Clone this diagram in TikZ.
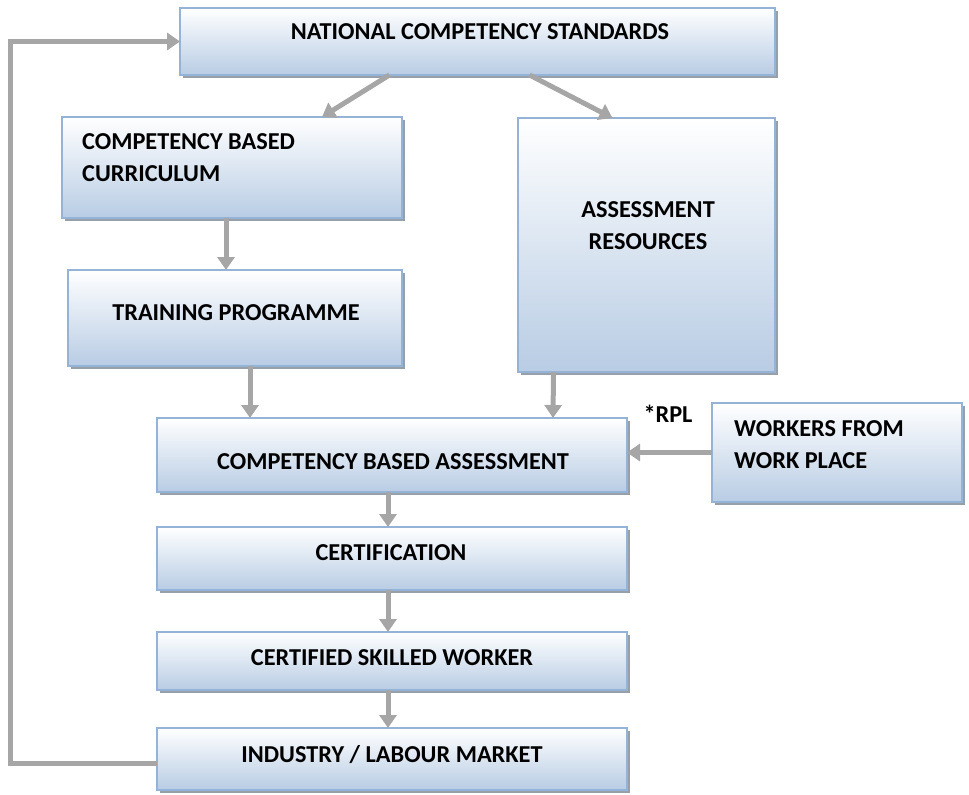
\documentclass[tikz,border=0pt]{standalone}
\usepackage{fontspec}
\setmainfont{Carlito}
\usetikzlibrary{shadows,arrows.meta,calc}
\definecolor{boxtop}{RGB}{255,255,255}
\definecolor{boxbot}{RGB}{184,204,228}
\definecolor{boxline}{RGB}{149,179,215}
\definecolor{arrgray}{RGB}{166,166,166}
\definecolor{shadowgray}{RGB}{140,150,160}
\tikzset{
  blockbox/.style={rectangle, draw=boxline, line width=1.6pt, inner sep=0pt, outer sep=0pt,
    top color=boxtop, bottom color=boxbot,
    drop shadow={shadow xshift=3pt, shadow yshift=-3pt, fill=shadowgray, opacity=0.9}},
  lbl/.style={font=\fontsize{24.3}{32}\selectfont\bfseries, inner sep=0pt, align=left},
  arr/.style={draw=arrgray, line width=5pt, -{Triangle[width=17pt,length=13pt]}}
}
\begin{document}
\begin{tikzpicture}[x=1pt,y=-1pt]
\useasboundingbox (0,0) rectangle (969,795);
% boxes
\node[blockbox, minimum width=595pt, minimum height=67pt] (nat) at (477.5,41.5) {};
\node[blockbox, minimum width=340pt, minimum height=101pt] (cur) at (232,167.5) {};
\node[blockbox, minimum width=257pt, minimum height=254pt] (ass) at (646.5,245) {};
\node[blockbox, minimum width=334pt, minimum height=96pt] (trn) at (235,318) {};
\node[blockbox, minimum width=470pt, minimum height=74pt] (cba) at (392,455) {};
\node[blockbox, minimum width=250pt, minimum height=99pt] (wrk) at (837,452.5) {};
\node[blockbox, minimum width=470pt, minimum height=63pt] (cert) at (392,558.5) {};
\node[blockbox, minimum width=470pt, minimum height=58pt] (csw) at (392,661) {};
\node[blockbox, minimum width=470pt, minimum height=62pt] (ind) at (392,759) {};
% texts
\node[lbl] (tnat) at (480,32) {NATIONAL COMPETENCY STANDARDS};
\node[lbl, anchor=north west] (tcur) at (82,133.5) {COMPETENCY BASED\\CURRICULUM};
\node[lbl, align=center, anchor=north] (tass) at (648,201.5) {ASSESSMENT\\RESOURCES};
\node[lbl] (ttrn) at (236,313) {TRAINING PROGRAMME};
\node[lbl] (tcba) at (393,462) {COMPETENCY BASED ASSESSMENT};
\node[lbl, anchor=north west] (twrk) at (734,420.5) {WORKERS FROM\\WORK PLACE};
\node[lbl] (tcert) at (391,553) {CERTIFICATION};
\node[lbl] (tcsw) at (392,658) {CERTIFIED SKILLED WORKER};
\node[lbl] (tind) at (392,755) {INDUSTRY / LABOUR MARKET};
\node[lbl] (rpl) at (668,414) {*RPL};
% arrows
\draw[arr] ([xshift=-88pt]nat.south) -- ([xshift=90pt]cur.north);
\draw[arr] ([xshift=52pt]nat.south) -- ([xshift=-34pt]ass.north);
\draw[arr] ([xshift=-6pt]cur.south) -- ([xshift=-9pt]trn.north);
\draw[arr] ([xshift=15pt]trn.south) -- (cba.north -| 250,0);
\draw[arr] ([xshift=-93pt]ass.south) -- (cba.north -| 553,0);
\draw[arr] (wrk.west) -- (cba.east |- wrk.west);
\draw[arr] ([xshift=-4pt]cba.south) -- ([xshift=-4pt]cert.north);
\draw[arr] ([xshift=-4pt]cert.south) -- ([xshift=-4pt]csw.north);
\draw[arr] ([xshift=-4pt]csw.south) -- ([xshift=-4pt]ind.north);
\coordinate (fb) at (10,763);
\draw[arr] (ind.west |- fb) -- (fb) |- (nat.west);
\end{tikzpicture}
\end{document}
